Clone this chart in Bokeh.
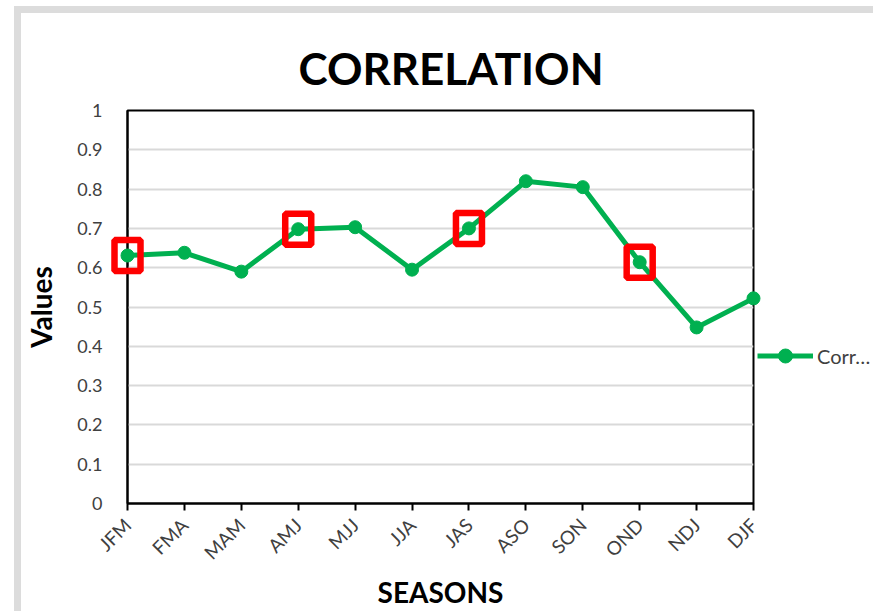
from bokeh.plotting import figure
from bokeh.models import FixedTicker, Legend, LegendItem, ColumnDataSource
from bokeh.embed import file_html
from bokeh.resources import INLINE
import math

seasons = ["JFM", "FMA", "MAM", "AMJ", "MJJ", "JJA", "JAS", "ASO", "SON", "OND", "NDJ", "DJF"]
values = [0.631, 0.638, 0.590, 0.698, 0.703, 0.595, 0.700, 0.820, 0.805, 0.614, 0.448, 0.522]
highlight = ["JFM", "AMJ", "JAS", "OND"]
y_ticks = [0, 0.1, 0.2, 0.3, 0.4, 0.5, 0.6, 0.7, 0.8, 0.9, 1]

xs = list(range(len(seasons)))
src = ColumnDataSource(dict(x=xs, y=values))
hx = [seasons.index(s) for s in highlight]
hy = [values[i] for i in hx]

FONT = "Lato"
p = figure(width=845, height=595, output_backend="svg", toolbar_location=None,
           x_range=(0, len(seasons) - 1), y_range=(0, 1),
           min_border_left=106, min_border_right=113, min_border_top=97, min_border_bottom=105,
           frame_width=626, frame_height=393)

p.title.text = "CORRELATION"
p.title.text_font = FONT
p.title.text_font_style = "bold"
p.title.text_font_size = "44px"
p.title.align = "left"
p.title.offset = 171
p.title.text_color = "black"
p.title.standoff = 34

p.xgrid.grid_line_color = None
p.ygrid.grid_line_color = "#d9d9d9"
p.ygrid.grid_line_width = 2
p.outline_line_color = "black"
p.outline_line_width = 2
p.outline_line_alpha = 1

p.yaxis.ticker = FixedTicker(ticks=y_ticks)
p.yaxis.major_label_overrides = {t: ("%g" % t) for t in y_ticks}
p.yaxis.major_tick_line_color = None
p.yaxis.minor_tick_line_color = None
p.yaxis.axis_line_color = "black"
p.yaxis.axis_line_width = 2
p.yaxis.major_label_text_font = FONT
p.yaxis.major_label_text_font_size = "18px"
p.yaxis.major_label_text_color = "#404040"
p.yaxis.major_label_standoff = 19
p.yaxis.axis_label = "Values"
p.yaxis.axis_label_text_font = FONT
p.yaxis.axis_label_text_font_style = "bold"
p.yaxis.axis_label_text_font_size = "28px"
p.yaxis.axis_label_text_color = "black"
p.yaxis.axis_label_standoff = 16

p.xaxis.ticker = FixedTicker(ticks=xs)
p.xaxis.major_label_overrides = {i: s for i, s in enumerate(seasons)}
p.xaxis.major_label_orientation = math.pi / 4
p.xaxis.major_tick_line_color = "black"
p.xaxis.major_tick_line_width = 2
p.xaxis.major_tick_out = 7
p.xaxis.major_tick_in = 0
p.xaxis.minor_tick_line_color = None
p.xaxis.axis_line_color = "black"
p.xaxis.axis_line_width = 2
p.xaxis.major_label_text_font = FONT
p.xaxis.major_label_text_font_size = "19px"
p.xaxis.major_label_text_color = "#404040"
p.xaxis.major_label_standoff = 11
p.xaxis.axis_label = "SEASONS"
p.xaxis.axis_label_text_font = FONT
p.xaxis.axis_label_text_font_style = "bold"
p.xaxis.axis_label_text_font_size = "28px"
p.xaxis.axis_label_text_color = "black"
p.xaxis.axis_label_standoff = 0

GREEN = "#00B050"
ln = p.line("x", "y", source=src, line_color=GREEN, line_width=5, level="overlay")
sc = p.scatter("x", "y", source=src, size=13, fill_color=GREEN, line_color=GREEN, level="overlay")

p.rect(hx, hy, width=26, height=31, width_units="screen", height_units="screen",
       fill_alpha=0, line_color="#FF0000", line_width=6.5, level="overlay")

legend = Legend(items=[LegendItem(label="Corr\u2026", renderers=[ln, sc])],
                location=(4, 130), orientation="vertical")
legend.border_line_color = None
legend.background_fill_alpha = 0
legend.label_text_font = FONT
legend.label_text_font_size = "20px"
legend.label_text_color = "#404040"
legend.glyph_width = 56
legend.glyph_height = 35
legend.padding = 0
legend.margin = 0
legend.label_standoff = 4
p.add_layout(legend, "right")

# light grey card border seen at the top-left of the original picture
p.styles = {"margin-left": "14px", "margin-top": "6px",
            "border-left": "7px solid #dcdcdc", "border-top": "7px solid #dcdcdc"}

open("out.html", "w").write(file_html(p, INLINE))
